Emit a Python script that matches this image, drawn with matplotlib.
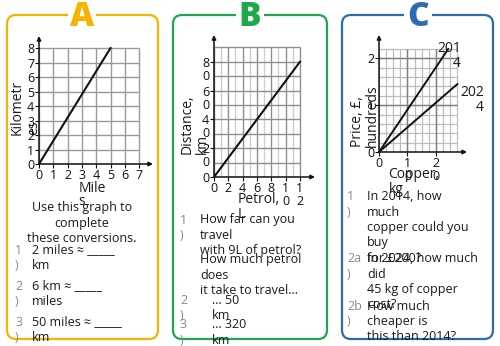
import matplotlib
matplotlib.use("Agg")
import matplotlib.pyplot as plt
from matplotlib.patches import FancyBboxPatch, Rectangle

plt.rcParams['font.family'] = ['Open Sans', 'DejaVu Sans']

# ---------------- data ----------------
A_miles = [0, 5]
A_km = [0, 8]
A_xticks = [0, 1, 2, 3, 4, 5, 6, 7]
A_yticks = [0, 1, 2, 3, 4, 5, 6, 7, 8]

B_petrol = [0, 12]
B_distance = [0, 80]
B_xticks = [0, 2, 4, 6, 8, 10, 12]
B_xlabels = ["0", "2", "4", "6", "8", "1\n0", "1\n2"]
B_yticks = [0, 20, 40, 60, 80]
B_ylabels = ["0", "2\n0", "4\n0", "6\n0", "8\n0"]

C_copper_2014 = [0, 24.3]
C_price_2014 = [0, 2.2]
C_copper_2024 = [0, 27.5]
C_price_2024 = [0, 1.45]
C_xticks = [0, 10, 20]
C_xlabels = ["0", "1\n0", "2\n0"]
C_yticks = [0, 1, 2]
C_ylabels = ["0", "1", "2"]

GOLD = "#F6B400"
GREEN = "#1EA84B"
BLUE = "#2F6BB3"
TXT = "#1a1a1a"
NUM = "#8a8a8a"
FS = 9
TFS = 7.5
LH = 15.3

fig = plt.figure(figsize=(5, 3.46), dpi=100)
bg = fig.add_axes([0, 0, 1, 1])
bg.set_xlim(0, 500)
bg.set_ylim(346, 0)
bg.axis('off')

def panel(x0, x1, color, letter, lx):
    bg.add_patch(FancyBboxPatch((x0, 15), x1 - x0, 324,
                                boxstyle="round,pad=0,rounding_size=9",
                                fc='white', ec=color, lw=1.6, zorder=1))
    bg.add_patch(Rectangle((lx - 14, 11), 28, 9, fc='white', ec='none', zorder=2))
    bg.text(lx, 17, letter, color=color, fontsize=24, fontweight='heavy',
            ha='center', va='center', zorder=3)

panel(7, 158, GOLD, "A", 82)
panel(173, 327, GREEN, "B", 250)
panel(342, 493, BLUE, "C", 418)

def lines(x, y, s, color=TXT, ha='left', fs=FS):
    for i, ln in enumerate(s.split("\n")):
        bg.text(x, y + i * LH, ln, color=color, fontsize=fs, ha=ha,
                va='center', zorder=5)

def make_axes(ox, oy, right, top, xmax, ymax):
    ax = fig.add_axes([ox / 500, 1 - oy / 346, (right - ox) / 500, (oy - top) / 346])
    ax.patch.set_alpha(0)
    ax.set_xlim(0, xmax)
    ax.set_ylim(0, ymax)
    for s in ax.spines.values():
        s.set_visible(False)
    ax.annotate('', xy=(1, 0), xytext=(0, 0), xycoords='axes fraction',
                arrowprops=dict(arrowstyle='-|>', color='#111', lw=1.1,
                                mutation_scale=6, shrinkA=0, shrinkB=0))
    ax.annotate('', xy=(0, 1), xytext=(0, 0), xycoords='axes fraction',
                arrowprops=dict(arrowstyle='-|>', color='#111', lw=1.1,
                                mutation_scale=6, shrinkA=0, shrinkB=0))
    ax.tick_params(length=3, width=0.8, pad=0.5, labelsize=TFS + 1.5,
                   colors='#111')
    return ax

# ---------------- A ----------------
axA = make_axes(39, 164, 153, 36, 7.97, 8.83)
axA.vlines(A_xticks, 0, 8, color='#9a9a9a', lw=1.0, zorder=1)
axA.hlines(A_yticks, 0, 7, color='#9a9a9a', lw=1.0, zorder=1)
axA.plot(A_miles, A_km, color='#111', lw=1.5, zorder=3)
axA.set_xticks(A_xticks)
axA.set_yticks(A_yticks)
axA.set_xticklabels([str(v) for v in A_xticks])
axA.set_yticklabels([str(v) for v in A_yticks])

bg.text(25, 107, "Kilometr\nes", rotation=90, fontsize=FS + 1, color=TXT,
        ha='center', va='center', multialignment='left', linespacing=1.15, zorder=5)
bg.text(92, 195, "Mile\ns", fontsize=FS + 1, color=TXT, ha='center', va='center',
        multialignment='left', linespacing=0.85, zorder=5)
lines(82, 208, "Use this graph to\ncomplete\nthese conversions.", ha='center')
lines(15, 250, "1\n)", color=NUM)
lines(32, 250, "2 miles \u2248 _____\nkm")
lines(15, 286, "2\n)", color=NUM)
lines(32, 286, "6 km \u2248 _____\nmiles")
lines(15, 322, "3\n)", color=NUM)
lines(32, 322, "50 miles \u2248 _____\nkm")

# ---------------- B ----------------
axB = make_axes(214, 177, 315, 35, 14.1, 98.6)
axB.vlines([v for v in range(0, 13) if v % 2 == 1], 0, 90, color='#cfcfcf', lw=1.0, zorder=1)
axB.vlines([v for v in range(0, 13) if v % 2 == 0], 0, 90, color='#8f8f8f', lw=1.0, zorder=1)
axB.hlines(list(range(0, 91, 10)), 0, 12, color='#8f8f8f', lw=1.0, zorder=1)
axB.plot(B_petrol, B_distance, color='#111', lw=1.5, zorder=3)
axB.set_xticks(B_xticks)
axB.set_xticklabels(B_xlabels, linespacing=1.0)
axB.set_yticks(B_yticks)
axB.set_yticklabels([" \n" + s if "\n" in s else s for s in B_ylabels], linespacing=1.0)

bg.text(195, 124, "Distance,\nkm", rotation=90, fontsize=FS + 1, color=TXT,
        ha='center', va='center', multialignment='left', linespacing=1.0, zorder=5)
bg.text(259, 207, "Petrol,\nL", fontsize=FS + 1, color=TXT, ha='center', va='center',
        multialignment='left', linespacing=1.0, zorder=5)
lines(180, 220, "1\n)", color=NUM)
lines(200, 220, "How far can you\ntravel\nwith 9L of petrol?")
lines(200, 260, "How much petrol\ndoes\nit take to travel...")
lines(180, 300, "2\n)", color=NUM)
lines(212, 300, "... 50\nkm")
lines(180, 325, "3\n)", color=NUM)
lines(212, 325, "... 320\nkm")

# ---------------- C ----------------
axC = make_axes(379, 152, 467, 35, 30.9, 2.5)
minor_x = [i * 2.5 for i in range(12)]
minor_y = [round(i * 0.2, 1) for i in range(12)]
axC.vlines(minor_x, 0, 2.2, color='#bdbdbd', lw=0.9, zorder=1)
axC.hlines(minor_y, 0, 27.5, color='#bdbdbd', lw=0.9, zorder=1)
axC.vlines([10, 20], 0, 2.2, color='#808080', lw=1.0, zorder=1)
axC.hlines([1, 2], 0, 27.5, color='#808080', lw=1.0, zorder=1)
axC.plot(C_copper_2014, C_price_2014, color='#111', lw=1.4, zorder=3)
axC.plot(C_copper_2024, C_price_2024, color='#111', lw=1.4, zorder=3)
axC.set_xticks(C_xticks)
axC.set_xticklabels(C_xlabels, linespacing=1.0)
axC.set_yticks(C_yticks)
axC.set_yticklabels(C_ylabels)
axC.text(28.8, 2.37, "201\n4", fontsize=FS + 1, color=TXT, ha='right', va='top',
         multialignment='right', linespacing=1.0, clip_on=False,
         transform=axC.transData)
axC.text(36.8, 1.43, "202\n4", fontsize=FS + 1, color=TXT, ha='right', va='top',
         multialignment='right', linespacing=1.0, clip_on=False)

bg.text(365, 116, "Price, \u00a3,\nhundreds", rotation=90, fontsize=FS + 1, color=TXT,
        ha='center', va='center', multialignment='left', linespacing=1.0, zorder=5)
bg.text(414, 182, "Copper,\nkg", fontsize=FS + 1, color=TXT, ha='center', va='center',
        multialignment='left', linespacing=1.0, zorder=5)
lines(347, 197, "1\n)", color=NUM)
lines(367, 197, "In 2014, how\nmuch\ncopper could you\nbuy\nfor \u00a3200?")
lines(347, 259, "2a\n)", color=NUM)
lines(367, 259, "In 2024, how much\ndid\n45 kg of copper\ncost?")
lines(347, 306, "2b\n)", color=NUM)
lines(367, 306, "How much\ncheaper is\nthis than 2014?")

fig.savefig("out.png", dpi=100)
